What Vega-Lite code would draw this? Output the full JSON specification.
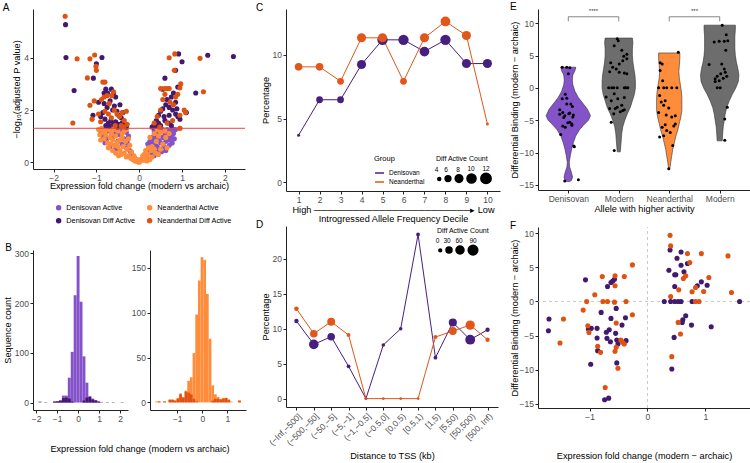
{
"$schema": "https://vega.github.io/schema/vega-lite/v6.json",
"padding": {"left": 2, "top": 1, "right": 0, "bottom": 0},
"background": "white",
"config": {
  "font": "Liberation Sans",
  "view": {"stroke": null},
  "axis": {"grid": false, "domainColor": "#222222", "tickColor": "#222222", "domainWidth": 1, "tickWidth": 1, "tickSize": 3, "labelColor": "#4d4d4d", "labelFontSize": 8.5, "labelPadding": 1.5, "titleFontSize": 9.2, "titleFontWeight": "normal", "titleColor": "#000000", "titlePadding": 2, "labelOverlap": false},
  "title": {"fontSize": 10, "fontWeight": "normal", "anchor": "start", "frame": "bounds", "offset": -4, "color": "#000000"},
  "legend": {"titleFontWeight": "normal", "labelFontSize": 7.3, "titleFontSize": 7.5, "labelColor": "#000000", "titleColor": "#000000"}
},
"datasets": {
  "volc": [
    {"x":-0.85,"y":1.0,"g":"DA"},{"x":-0.7,"y":1.2,"g":"DA"},{"x":-0.62,"y":0.95,"g":"DA"},{"x":-0.55,"y":1.15,"g":"DA"},{"x":-0.5,"y":0.8,"g":"DA"},{"x":-0.45,"y":1.05,"g":"DA"},{"x":-0.4,"y":0.7,"g":"DA"},{"x":-0.35,"y":0.9,"g":"DA"},{"x":-0.3,"y":0.55,"g":"DA"},{"x":-0.28,"y":0.75,"g":"DA"},{"x":-0.22,"y":0.45,"g":"DA"},{"x":-0.18,"y":0.35,"g":"DA"},{"x":-0.15,"y":0.25,"g":"DA"},{"x":-0.1,"y":0.15,"g":"DA"},{"x":-0.05,"y":0.08,"g":"DA"},{"x":-0.6,"y":1.28,"g":"DA"},{"x":-0.75,"y":0.9,"g":"DA"},{"x":-0.42,"y":1.25,"g":"DA"},{"x":-0.3,"y":1.15,"g":"DA"},{"x":-0.25,"y":1.0,"g":"DA"},
    {"x":-0.9,"y":1.2,"g":"DA"},{"x":-0.8,"y":0.75,"g":"DA"},{"x":-0.68,"y":0.6,"g":"DA"},{"x":-0.55,"y":0.5,"g":"DA"},{"x":-0.65,"y":1.05,"g":"DA"},{"x":0.62,"y":0.45,"g":"DA"},{"x":0.7,"y":0.65,"g":"DA"},{"x":0.75,"y":0.95,"g":"DA"},{"x":0.82,"y":0.9,"g":"DA"},{"x":0.85,"y":1.25,"g":"DA"},{"x":0.52,"y":0.4,"g":"DA"},{"x":0.35,"y":0.25,"g":"DA"},{"x":0.6,"y":0.95,"g":"DA"},{"x":0.78,"y":1.28,"g":"DA"},
    {"x":0.05,"y":0.1,"g":"DA"},{"x":0.1,"y":0.2,"g":"DA"},{"x":0.15,"y":0.3,"g":"DA"},{"x":0.2,"y":0.45,"g":"DA"},{"x":0.25,"y":0.55,"g":"DA"},{"x":0.3,"y":0.7,"g":"DA"},{"x":0.35,"y":0.85,"g":"DA"},{"x":0.4,"y":1.0,"g":"DA"},{"x":0.45,"y":1.15,"g":"DA"},{"x":0.5,"y":1.25,"g":"DA"},{"x":0.3,"y":0.95,"g":"DA"},{"x":0.25,"y":0.8,"g":"DA"},{"x":0.2,"y":0.7,"g":"DA"},{"x":0.35,"y":1.2,"g":"DA"},{"x":0.42,"y":0.6,"g":"DA"},{"x":0.5,"y":0.75,"g":"DA"},{"x":0.55,"y":0.95,"g":"DA"},{"x":0.6,"y":1.1,"g":"DA"},{"x":0.65,"y":1.25,"g":"DA"},{"x":0.58,"y":0.6,"g":"DA"},{"x":0.7,"y":0.85,"g":"DA"},{"x":0.77,"y":0.74,"g":"DA"},{"x":0.72,"y":1.2,"g":"DA"},{"x":0.62,"y":0.8,"g":"DA"},{"x":0.48,"y":0.5,"g":"DA"},{"x":0.4,"y":0.4,"g":"DA"},{"x":0.3,"y":0.35,"g":"DA"},{"x":0.18,"y":0.15,"g":"DA"},{"x":0.68,"y":1.0,"g":"DA"},{"x":0.55,"y":1.25,"g":"DA"},{"x":0.8,"y":1.1,"g":"DA"},{"x":0.45,"y":0.85,"g":"DA"},{"x":0.38,"y":0.65,"g":"DA"},
    {"x":-0.95,"y":1.25,"g":"NA"},{"x":-0.85,"y":1.15,"g":"NA"},{"x":-0.78,"y":1.05,"g":"NA"},{"x":-0.74,"y":0.74,"g":"NA"},{"x":-0.7,"y":1.25,"g":"NA"},{"x":-0.65,"y":1.1,"g":"NA"},{"x":-0.62,"y":0.85,"g":"NA"},{"x":-0.58,"y":0.65,"g":"NA"},{"x":-0.55,"y":1.0,"g":"NA"},{"x":-0.5,"y":1.2,"g":"NA"},{"x":-0.5,"y":0.6,"g":"NA"},{"x":-0.45,"y":0.85,"g":"NA"},{"x":-0.45,"y":0.45,"g":"NA"},{"x":-0.4,"y":1.1,"g":"NA"},{"x":-0.38,"y":0.6,"g":"NA"},{"x":-0.35,"y":0.35,"g":"NA"},{"x":-0.32,"y":0.8,"g":"NA"},{"x":-0.3,"y":1.25,"g":"NA"},{"x":-0.28,"y":0.5,"g":"NA"},{"x":-0.25,"y":0.25,"g":"NA"},{"x":-0.22,"y":0.65,"g":"NA"},{"x":-0.2,"y":0.15,"g":"NA"},{"x":-0.18,"y":0.4,"g":"NA"},{"x":-0.15,"y":0.1,"g":"NA"},{"x":-0.12,"y":0.25,"g":"NA"},{"x":-0.1,"y":0.05,"g":"NA"},{"x":-0.08,"y":0.12,"g":"NA"},{"x":-0.05,"y":0.03,"g":"NA"},{"x":-0.02,"y":0.02,"g":"NA"},{"x":-0.88,"y":1.3,"g":"NA"},{"x":-0.68,"y":0.95,"g":"NA"},{"x":-0.4,"y":0.95,"g":"NA"},{"x":-0.35,"y":1.2,"g":"NA"},{"x":-0.25,"y":0.9,"g":"NA"},{"x":-0.6,"y":1.25,"g":"NA"},{"x":-0.52,"y":0.75,"g":"NA"},{"x":-0.42,"y":0.3,"g":"NA"},{"x":-0.3,"y":0.2,"g":"NA"},
    {"x":-0.92,"y":1.05,"g":"NA"},{"x":-0.82,"y":0.9,"g":"NA"},{"x":-0.72,"y":0.55,"g":"NA"},{"x":-0.62,"y":0.45,"g":"NA"},{"x":-0.55,"y":0.35,"g":"NA"},{"x":-0.48,"y":0.25,"g":"NA"},{"x":-0.8,"y":1.22,"g":"NA"},{"x":-0.66,"y":0.7,"g":"NA"},{"x":-0.9,"y":0.85,"g":"NA"},
    {"x":0.0,"y":0.0,"g":"NA"},{"x":0.03,"y":0.05,"g":"NA"},{"x":0.06,"y":0.12,"g":"NA"},{"x":0.1,"y":0.08,"g":"NA"},{"x":0.12,"y":0.3,"g":"NA"},{"x":0.15,"y":0.15,"g":"NA"},{"x":0.2,"y":0.3,"g":"NA"},{"x":0.22,"y":0.55,"g":"NA"},{"x":0.28,"y":0.45,"g":"NA"},{"x":0.3,"y":0.6,"g":"NA"},{"x":0.35,"y":0.5,"g":"NA"},{"x":0.4,"y":0.8,"g":"NA"},{"x":0.45,"y":1.0,"g":"NA"},{"x":0.5,"y":0.5,"g":"NA"},{"x":0.6,"y":1.2,"g":"NA"},{"x":0.95,"y":1.3,"g":"NA"},{"x":0.25,"y":0.95,"g":"NA"},{"x":0.35,"y":1.1,"g":"NA"},{"x":0.15,"y":0.45,"g":"NA"},{"x":0.08,"y":0.25,"g":"NA"},{"x":0.02,"y":0.1,"g":"NA"},{"x":0.5,"y":1.15,"g":"NA"},{"x":0.42,"y":1.25,"g":"NA"},
    {"x":0.3,"y":0.2,"g":"NA"},{"x":0.38,"y":0.35,"g":"NA"},{"x":0.45,"y":0.3,"g":"NA"},{"x":0.55,"y":0.7,"g":"NA"},{"x":0.65,"y":0.55,"g":"NA"},{"x":0.62,"y":0.95,"g":"NA"},{"x":0.7,"y":1.1,"g":"NA"},{"x":0.25,"y":0.1,"g":"NA"},{"x":0.18,"y":0.05,"g":"NA"},
    {"x":-1.72,"y":5.27,"g":"DD"},{"x":-1.71,"y":4.01,"g":"DD"},{"x":-0.87,"y":4.01,"g":"DD"},{"x":-1.0,"y":3.77,"g":"DD"},{"x":-1.07,"y":3.22,"g":"DD"},{"x":-1.52,"y":2.75,"g":"DD"},{"x":-0.78,"y":2.8,"g":"DD"},{"x":-0.74,"y":2.65,"g":"DD"},{"x":-0.65,"y":2.8,"g":"DD"},{"x":-0.6,"y":2.65,"g":"DD"},{"x":-0.55,"y":2.5,"g":"DD"},{"x":-0.95,"y":2.3,"g":"DD"},{"x":-0.82,"y":2.25,"g":"DD"},{"x":-0.75,"y":2.1,"g":"DD"},{"x":-0.68,"y":2.35,"g":"DD"},{"x":-0.62,"y":2.0,"g":"DD"},{"x":-0.58,"y":2.15,"g":"DD"},{"x":-0.52,"y":1.95,"g":"DD"},{"x":-0.48,"y":1.8,"g":"DD"},{"x":-0.42,"y":1.7,"g":"DD"},{"x":-1.08,"y":1.8,"g":"DD"},{"x":-0.9,"y":1.75,"g":"DD"},{"x":-0.8,"y":1.65,"g":"DD"},{"x":-0.72,"y":1.5,"g":"DD"},{"x":-0.66,"y":1.6,"g":"DD"},{"x":-0.6,"y":1.45,"g":"DD"},{"x":-0.55,"y":1.55,"g":"DD"},{"x":-0.48,"y":1.45,"g":"DD"},{"x":-0.4,"y":1.5,"g":"DD"},{"x":-0.35,"y":1.4,"g":"DD"},{"x":-0.78,"y":1.4,"g":"DD"},{"x":-0.7,"y":1.38,"g":"DD"},{"x":-0.5,"y":1.35,"g":"DD"},{"x":-0.3,"y":1.35,"g":"DD"},{"x":-0.45,"y":2.2,"g":"DD"},{"x":-0.38,"y":1.9,"g":"DD"},{"x":-0.85,"y":1.9,"g":"DD"},{"x":-0.82,"y":2.65,"g":"DD"},
    {"x":0.92,"y":4.15,"g":"DD"},{"x":1.0,"y":3.85,"g":"DD"},{"x":0.85,"y":3.52,"g":"DD"},{"x":0.6,"y":3.22,"g":"DD"},{"x":0.9,"y":2.88,"g":"DD"},{"x":0.55,"y":2.8,"g":"DD"},{"x":1.32,"y":2.65,"g":"DD"},{"x":1.6,"y":4.1,"g":"DD"},{"x":2.2,"y":4.05,"g":"DD"},{"x":0.8,"y":2.65,"g":"DD"},{"x":0.75,"y":2.5,"g":"DD"},{"x":0.65,"y":2.4,"g":"DD"},{"x":0.62,"y":2.2,"g":"DD"},{"x":0.55,"y":2.05,"g":"DD"},{"x":0.5,"y":1.95,"g":"DD"},{"x":0.45,"y":1.8,"g":"DD"},{"x":0.4,"y":1.6,"g":"DD"},{"x":0.35,"y":1.45,"g":"DD"},{"x":0.3,"y":1.35,"g":"DD"},{"x":0.7,"y":2.1,"g":"DD"},{"x":0.78,"y":2.0,"g":"DD"},{"x":0.85,"y":1.85,"g":"DD"},{"x":0.9,"y":1.75,"g":"DD"},{"x":0.95,"y":1.65,"g":"DD"},{"x":1.1,"y":1.9,"g":"DD"},{"x":0.6,"y":1.6,"g":"DD"},{"x":0.68,"y":1.5,"g":"DD"},{"x":0.75,"y":1.4,"g":"DD"},{"x":0.5,"y":1.4,"g":"DD"},{"x":0.85,"y":2.3,"g":"DD"},{"x":0.88,"y":2.05,"g":"DD"},{"x":0.7,"y":1.8,"g":"DD"},{"x":0.58,"y":1.75,"g":"DD"},{"x":0.45,"y":1.5,"g":"DD"},{"x":0.38,"y":1.38,"g":"DD"},
    {"x":-1.73,"y":5.59,"g":"ND"},{"x":-1.45,"y":3.96,"g":"ND"},{"x":-1.15,"y":3.96,"g":"ND"},{"x":-1.04,"y":4.11,"g":"ND"},{"x":-1.01,"y":3.67,"g":"ND"},{"x":-1.0,"y":3.52,"g":"ND"},{"x":-1.21,"y":3.23,"g":"ND"},{"x":-0.85,"y":3.07,"g":"ND"},{"x":-0.8,"y":3.07,"g":"ND"},{"x":-1.05,"y":2.35,"g":"ND"},{"x":-1.15,"y":2.18,"g":"ND"},{"x":-1.1,"y":1.65,"g":"ND"},{"x":-1.55,"y":1.5,"g":"ND"},{"x":-0.95,"y":1.85,"g":"ND"},{"x":-0.88,"y":2.4,"g":"ND"},{"x":-0.82,"y":2.5,"g":"ND"},{"x":-0.75,"y":2.55,"g":"ND"},{"x":-0.7,"y":2.25,"g":"ND"},{"x":-0.64,"y":2.55,"g":"ND"},{"x":-0.58,"y":2.0,"g":"ND"},{"x":-0.52,"y":1.85,"g":"ND"},{"x":-0.46,"y":1.75,"g":"ND"},{"x":-0.4,"y":1.9,"g":"ND"},{"x":-0.35,"y":1.6,"g":"ND"},{"x":-0.3,"y":1.95,"g":"ND"},{"x":-0.28,"y":1.45,"g":"ND"},{"x":-0.65,"y":1.7,"g":"ND"},{"x":-0.72,"y":1.85,"g":"ND"},{"x":-0.8,"y":1.95,"g":"ND"},{"x":-0.56,"y":1.4,"g":"ND"},{"x":-0.42,"y":1.4,"g":"ND"},{"x":-0.36,"y":1.35,"g":"ND"},{"x":-0.6,"y":2.7,"g":"ND"},{"x":-0.9,"y":1.55,"g":"ND"},
    {"x":0.83,"y":4.15,"g":"ND"},{"x":0.7,"y":4.0,"g":"ND"},{"x":1.42,"y":3.98,"g":"ND"},{"x":0.82,"y":3.52,"g":"ND"},{"x":0.97,"y":3.0,"g":"ND"},{"x":0.95,"y":2.85,"g":"ND"},{"x":0.5,"y":2.82,"g":"ND"},{"x":0.6,"y":2.82,"g":"ND"},{"x":0.65,"y":2.82,"g":"ND"},{"x":0.7,"y":2.82,"g":"ND"},{"x":1.5,"y":2.7,"g":"ND"},{"x":0.9,"y":2.6,"g":"ND"},{"x":0.85,"y":2.5,"g":"ND"},{"x":0.72,"y":2.3,"g":"ND"},{"x":0.6,"y":2.6,"g":"ND"},{"x":0.55,"y":2.4,"g":"ND"},{"x":0.8,"y":2.2,"g":"ND"},{"x":1.05,"y":2.0,"g":"ND"},{"x":1.08,"y":1.9,"g":"ND"},{"x":0.95,"y":1.8,"g":"ND"},{"x":0.5,"y":2.0,"g":"ND"},{"x":0.42,"y":1.75,"g":"ND"},{"x":0.65,"y":1.5,"g":"ND"},{"x":0.95,"y":1.3,"g":"ND"},{"x":0.48,"y":1.35,"g":"ND"},{"x":0.78,"y":1.6,"g":"ND"},{"x":0.35,"y":1.5,"g":"ND"}
  ],
  "h1": [
    {"a":-1.89,"b":-1.75,"n":2,"g":"L"},{"a":-1.61,"b":-1.47,"n":1,"g":"L"},{"a":-1.19,"b":-1.05,"n":2,"g":"L"},{"a":-1.05,"b":-0.91,"n":3,"g":"L"},{"a":-0.91,"b":-0.77,"n":5,"g":"L"},{"a":-0.77,"b":-0.63,"n":14,"g":"L"},{"a":-0.63,"b":-0.49,"n":14,"g":"L"},{"a":-0.49,"b":-0.35,"n":50,"g":"L"},{"a":-0.35,"b":-0.21,"n":102,"g":"L"},{"a":-0.21,"b":-0.07,"n":216,"g":"L"},{"a":-0.07,"b":0.07,"n":295,"g":"L"},{"a":0.07,"b":0.21,"n":203,"g":"L"},{"a":0.21,"b":0.35,"n":93,"g":"L"},{"a":0.35,"b":0.49,"n":40,"g":"L"},{"a":0.49,"b":0.63,"n":13,"g":"L"},{"a":0.63,"b":0.77,"n":8,"g":"L"},{"a":0.77,"b":0.91,"n":5,"g":"L"},{"a":0.91,"b":1.05,"n":2,"g":"L"},{"a":1.05,"b":1.19,"n":1,"g":"L"},{"a":1.33,"b":1.47,"n":1,"g":"L"},{"a":1.61,"b":1.75,"n":1,"g":"L"},{"a":2.03,"b":2.17,"n":1,"g":"L"},
    {"a":-1.19,"b":-1.05,"n":2,"g":"D"},{"a":-1.05,"b":-0.91,"n":2,"g":"D"},{"a":-0.91,"b":-0.77,"n":3,"g":"D"},{"a":-0.77,"b":-0.63,"n":9,"g":"D"},{"a":-0.63,"b":-0.49,"n":10,"g":"D"},{"a":-0.49,"b":-0.35,"n":8,"g":"D"},{"a":-0.35,"b":-0.21,"n":2,"g":"D"},{"a":0.21,"b":0.35,"n":4,"g":"D"},{"a":0.35,"b":0.49,"n":10,"g":"D"},{"a":0.49,"b":0.63,"n":11,"g":"D"},{"a":0.63,"b":0.77,"n":6,"g":"D"},{"a":0.77,"b":0.91,"n":4,"g":"D"},{"a":0.91,"b":1.05,"n":2,"g":"D"}
  ],
  "h2": [
    {"a":-1.883,"b":-1.776,"n":1,"g":"L"},{"a":-1.776,"b":-1.669,"n":1,"g":"L"},{"a":-1.562,"b":-1.455,"n":1,"g":"L"},{"a":-1.348,"b":-1.241,"n":3,"g":"L"},{"a":-1.241,"b":-1.134,"n":3,"g":"L"},{"a":-1.134,"b":-1.027,"n":2,"g":"L"},{"a":-1.027,"b":-0.92,"n":5,"g":"L"},{"a":-0.92,"b":-0.813,"n":10,"g":"L"},{"a":-0.813,"b":-0.706,"n":6,"g":"L"},{"a":-0.706,"b":-0.599,"n":13,"g":"L"},{"a":-0.599,"b":-0.492,"n":24,"g":"L"},{"a":-0.492,"b":-0.385,"n":28,"g":"L"},{"a":-0.385,"b":-0.278,"n":55,"g":"L"},{"a":-0.278,"b":-0.171,"n":98,"g":"L"},{"a":-0.171,"b":-0.064,"n":136,"g":"L"},{"a":-0.064,"b":0.044,"n":162,"g":"L"},{"a":0.044,"b":0.151,"n":159,"g":"L"},{"a":0.151,"b":0.258,"n":121,"g":"L"},{"a":0.258,"b":0.365,"n":71,"g":"L"},{"a":0.365,"b":0.472,"n":19,"g":"L"},{"a":0.472,"b":0.579,"n":9,"g":"L"},{"a":0.579,"b":0.686,"n":6,"g":"L"},{"a":0.686,"b":0.793,"n":4,"g":"L"},{"a":0.793,"b":0.9,"n":5,"g":"L"},{"a":0.9,"b":1.007,"n":5,"g":"L"},{"a":1.007,"b":1.114,"n":3,"g":"L"},{"a":1.114,"b":1.221,"n":1,"g":"L"},{"a":1.435,"b":1.542,"n":2,"g":"L"},
    {"a":-1.776,"b":-1.669,"n":1,"g":"D"},{"a":-1.562,"b":-1.455,"n":1,"g":"D"},{"a":-1.348,"b":-1.241,"n":3,"g":"D"},{"a":-1.241,"b":-1.134,"n":3,"g":"D"},{"a":-1.134,"b":-1.027,"n":2,"g":"D"},{"a":-1.027,"b":-0.92,"n":4,"g":"D"},{"a":-0.92,"b":-0.813,"n":9,"g":"D"},{"a":-0.813,"b":-0.706,"n":5,"g":"D"},{"a":-0.706,"b":-0.599,"n":12,"g":"D"},{"a":-0.599,"b":-0.492,"n":11,"g":"D"},{"a":-0.492,"b":-0.385,"n":9,"g":"D"},{"a":-0.385,"b":-0.278,"n":4,"g":"D"},{"a":-0.278,"b":-0.171,"n":1,"g":"D"},{"a":0.365,"b":0.472,"n":2,"g":"D"},{"a":0.472,"b":0.579,"n":4,"g":"D"},{"a":0.579,"b":0.686,"n":4,"g":"D"},{"a":0.686,"b":0.793,"n":3,"g":"D"},{"a":0.793,"b":0.9,"n":4,"g":"D"},{"a":0.9,"b":1.007,"n":5,"g":"D"},{"a":1.007,"b":1.114,"n":3,"g":"D"},{"a":1.435,"b":1.542,"n":2,"g":"D"}
  ],
  "dec": [
    {"d":1,"p":3.7,"n":4,"g":"Denisovan"},{"d":2,"p":6.48,"n":7,"g":"Denisovan"},{"d":3,"p":6.48,"n":7,"g":"Denisovan"},{"d":4,"p":9.25,"n":10,"g":"Denisovan"},{"d":5,"p":11.18,"n":12,"g":"Denisovan"},{"d":6,"p":11.18,"n":12,"g":"Denisovan"},{"d":7,"p":10.26,"n":11,"g":"Denisovan"},{"d":8,"p":11.18,"n":12,"g":"Denisovan"},{"d":9,"p":9.32,"n":10,"g":"Denisovan"},{"d":10,"p":9.32,"n":10,"g":"Denisovan"},
    {"d":1,"p":9.06,"n":8,"g":"Neanderthal"},{"d":2,"p":9.06,"n":8,"g":"Neanderthal"},{"d":3,"p":7.93,"n":7,"g":"Neanderthal"},{"d":4,"p":11.34,"n":10,"g":"Neanderthal"},{"d":5,"p":11.34,"n":10,"g":"Neanderthal"},{"d":6,"p":7.93,"n":7,"g":"Neanderthal"},{"d":7,"p":11.34,"n":10,"g":"Neanderthal"},{"d":8,"p":12.62,"n":11,"g":"Neanderthal"},{"d":9,"p":11.52,"n":10,"g":"Neanderthal"},{"d":10,"p":4.57,"n":4,"g":"Neanderthal"}
  ],
  "tss": [
    {"b":"(−Inf,−500]","p":11.1,"n":12,"g":"Denisovan"},{"b":"(−500,−50]","p":7.76,"n":90,"g":"Denisovan"},{"b":"(−50,−5]","p":8.86,"n":53,"g":"Denisovan"},{"b":"(−5,−1]","p":4.62,"n":7,"g":"Denisovan"},{"b":"(−1,−0.5]","p":0,"n":0,"g":"Denisovan"},{"b":"(−0.5,0]","p":7.67,"n":5,"g":"Denisovan"},{"b":"[0,0.5)","p":10.0,"n":5,"g":"Denisovan"},{"b":"[0.5,1)","p":23.48,"n":7,"g":"Denisovan"},{"b":"[1,5)","p":5.86,"n":7,"g":"Denisovan"},{"b":"[5,50)","p":10.9,"n":62,"g":"Denisovan"},{"b":"[50,500)","p":8.43,"n":95,"g":"Denisovan"},{"b":"[500, Inf)","p":9.86,"n":12,"g":"Denisovan"},
    {"b":"(−Inf,−500]","p":12.86,"n":14,"g":"Neanderthal"},{"b":"(−500,−50]","p":9.29,"n":53,"g":"Neanderthal"},{"b":"(−50,−5]","p":11.0,"n":58,"g":"Neanderthal"},{"b":"(−5,−1]","p":9.1,"n":7,"g":"Neanderthal"},{"b":"(−1,−0.5]","p":0,"n":0,"g":"Neanderthal"},{"b":"(−0.5,0]","p":0,"n":0,"g":"Neanderthal"},{"b":"[0,0.5)","p":0,"n":0,"g":"Neanderthal"},{"b":"[0.5,1)","p":0,"n":0,"g":"Neanderthal"},{"b":"[1,5)","p":8.81,"n":9,"g":"Neanderthal"},{"b":"[5,50)","p":9.67,"n":58,"g":"Neanderthal"},{"b":"[50,500)","p":10.52,"n":85,"g":"Neanderthal"},{"b":"[500, Inf)","p":8.43,"n":12,"g":"Neanderthal"}
  ],
  "vio": [
    {"g":"Den","v":3.2,"lo":0.85,"hi":1.15},{"g":"Den","v":2.6,"lo":0.87,"hi":1.13},{"g":"Den","v":2.0,"lo":0.91,"hi":1.09},{"g":"Den","v":1.2,"lo":0.92,"hi":1.08},{"g":"Den","v":0.5,"lo":0.91,"hi":1.09},{"g":"Den","v":-0.5,"lo":0.87,"hi":1.13},{"g":"Den","v":-1.5,"lo":0.8,"hi":1.2},{"g":"Den","v":-2.5,"lo":0.7,"hi":1.3},{"g":"Den","v":-3.3,"lo":0.62,"hi":1.38},{"g":"Den","v":-4.3,"lo":0.56,"hi":1.44},{"g":"Den","v":-5.0,"lo":0.6,"hi":1.4},{"g":"Den","v":-5.8,"lo":0.7,"hi":1.3},{"g":"Den","v":-6.5,"lo":0.78,"hi":1.22},{"g":"Den","v":-7.5,"lo":0.855,"hi":1.145},{"g":"Den","v":-8.5,"lo":0.9,"hi":1.1},{"g":"Den","v":-9.5,"lo":0.934,"hi":1.066},{"g":"Den","v":-10.5,"lo":0.96,"hi":1.04},{"g":"Den","v":-11.5,"lo":0.98,"hi":1.02},{"g":"Den","v":-12.2,"lo":0.974,"hi":1.026},{"g":"Den","v":-13.0,"lo":0.94,"hi":1.06},{"g":"Den","v":-13.8,"lo":0.915,"hi":1.085},{"g":"Den","v":-14.3,"lo":0.935,"hi":1.065},{"g":"Den","v":-14.5,"lo":0.97,"hi":1.03},
    {"g":"Mod1","v":7.7,"lo":1.73,"hi":2.27},{"g":"Mod1","v":7.0,"lo":1.72,"hi":2.28},{"g":"Mod1","v":6.0,"lo":1.73,"hi":2.27},{"g":"Mod1","v":5.0,"lo":1.73,"hi":2.27},{"g":"Mod1","v":4.0,"lo":1.72,"hi":2.28},{"g":"Mod1","v":3.0,"lo":1.7,"hi":2.3},{"g":"Mod1","v":2.0,"lo":1.68,"hi":2.32},{"g":"Mod1","v":1.0,"lo":1.67,"hi":2.33},{"g":"Mod1","v":0.0,"lo":1.67,"hi":2.33},{"g":"Mod1","v":-1.0,"lo":1.69,"hi":2.31},{"g":"Mod1","v":-2.0,"lo":1.73,"hi":2.27},{"g":"Mod1","v":-3.0,"lo":1.77,"hi":2.23},{"g":"Mod1","v":-4.0,"lo":1.83,"hi":2.17},{"g":"Mod1","v":-5.0,"lo":1.88,"hi":2.12},{"g":"Mod1","v":-6.0,"lo":1.92,"hi":2.08},{"g":"Mod1","v":-7.0,"lo":1.94,"hi":2.06},{"g":"Mod1","v":-8.0,"lo":1.95,"hi":2.05},{"g":"Mod1","v":-9.0,"lo":1.96,"hi":2.04},{"g":"Mod1","v":-9.9,"lo":1.97,"hi":2.03},
    {"g":"Nea","v":5.4,"lo":2.79,"hi":3.21},{"g":"Nea","v":4.5,"lo":2.79,"hi":3.21},{"g":"Nea","v":3.5,"lo":2.8,"hi":3.2},{"g":"Nea","v":2.5,"lo":2.81,"hi":3.19},{"g":"Nea","v":1.5,"lo":2.8,"hi":3.2},{"g":"Nea","v":0.5,"lo":2.78,"hi":3.22},{"g":"Nea","v":-0.5,"lo":2.76,"hi":3.24},{"g":"Nea","v":-1.5,"lo":2.75,"hi":3.25},{"g":"Nea","v":-2.5,"lo":2.75,"hi":3.25},{"g":"Nea","v":-3.5,"lo":2.75,"hi":3.25},{"g":"Nea","v":-4.5,"lo":2.77,"hi":3.23},{"g":"Nea","v":-5.5,"lo":2.8,"hi":3.2},{"g":"Nea","v":-6.5,"lo":2.83,"hi":3.17},{"g":"Nea","v":-7.5,"lo":2.87,"hi":3.13},{"g":"Nea","v":-8.5,"lo":2.9,"hi":3.1},{"g":"Nea","v":-9.5,"lo":2.93,"hi":3.07},{"g":"Nea","v":-10.5,"lo":2.95,"hi":3.05},{"g":"Nea","v":-11.5,"lo":2.97,"hi":3.03},{"g":"Nea","v":-12.6,"lo":2.99,"hi":3.01},
    {"g":"Mod2","v":9.7,"lo":3.69,"hi":4.31},{"g":"Mod2","v":9.0,"lo":3.69,"hi":4.31},{"g":"Mod2","v":8.0,"lo":3.7,"hi":4.3},{"g":"Mod2","v":7.0,"lo":3.7,"hi":4.3},{"g":"Mod2","v":6.0,"lo":3.7,"hi":4.3},{"g":"Mod2","v":5.0,"lo":3.69,"hi":4.31},{"g":"Mod2","v":4.0,"lo":3.67,"hi":4.33},{"g":"Mod2","v":3.0,"lo":3.64,"hi":4.36},{"g":"Mod2","v":2.0,"lo":3.62,"hi":4.38},{"g":"Mod2","v":1.0,"lo":3.63,"hi":4.37},{"g":"Mod2","v":0.0,"lo":3.68,"hi":4.32},{"g":"Mod2","v":-1.0,"lo":3.75,"hi":4.25},{"g":"Mod2","v":-2.0,"lo":3.81,"hi":4.19},{"g":"Mod2","v":-3.0,"lo":3.86,"hi":4.14},{"g":"Mod2","v":-4.0,"lo":3.89,"hi":4.11},{"g":"Mod2","v":-5.0,"lo":3.91,"hi":4.09},{"g":"Mod2","v":-6.0,"lo":3.93,"hi":4.07},{"g":"Mod2","v":-7.0,"lo":3.94,"hi":4.06},{"g":"Mod2","v":-8.2,"lo":3.95,"hi":4.05}
  ],
  "jit": [
    {"x":0.88,"v":3.2},{"x":0.97,"v":3.2},{"x":1.03,"v":3.1},{"x":1.0,"v":2.2},{"x":0.94,"v":-1.0},{"x":0.97,"v":-1.6},{"x":0.88,"v":-1.7},{"x":0.97,"v":-2.5},{"x":1.05,"v":-2.5},{"x":0.83,"v":-3.4},{"x":0.89,"v":-3.8},{"x":0.93,"v":-4.3},{"x":1.01,"v":-4.0},{"x":1.1,"v":-4.2},{"x":1.09,"v":-4.5},{"x":0.83,"v":-4.1},{"x":0.91,"v":-4.6},{"x":1.03,"v":-5.3},{"x":1.07,"v":-5.6},{"x":0.99,"v":-5.4},{"x":0.89,"v":-5.9},{"x":0.94,"v":-6.1},{"x":1.07,"v":-5.8},{"x":0.85,"v":-7.2},{"x":1.11,"v":-9.0},{"x":1.12,"v":-9.1},{"x":0.93,"v":-14.4},{"x":1.2,"v":-14.2},{"x":1.08,"v":-2.9},{"x":1.03,"v":-3.9},
    {"x":1.97,"v":7.6},{"x":1.99,"v":7.3},{"x":1.91,"v":6.5},{"x":2.06,"v":5.8},{"x":2.16,"v":5.2},{"x":2.1,"v":4.9},{"x":2.16,"v":4.5},{"x":2.08,"v":4.2},{"x":1.84,"v":3.9},{"x":2.01,"v":3.7},{"x":1.88,"v":3.2},{"x":1.95,"v":2.9},{"x":1.82,"v":2.5},{"x":2.01,"v":2.4},{"x":2.11,"v":2.3},{"x":2.16,"v":2.2},{"x":1.8,"v":0},{"x":1.86,"v":0},{"x":1.9,"v":0},{"x":1.97,"v":0},{"x":2.11,"v":0},{"x":2.14,"v":0},{"x":2.18,"v":0},{"x":1.91,"v":-0.9},{"x":1.75,"v":-1.4},{"x":1.98,"v":-1.7},{"x":1.85,"v":-2.0},{"x":2.11,"v":-1.5},{"x":1.97,"v":-3.0},{"x":2.06,"v":-2.7},{"x":1.93,"v":-3.2},{"x":1.82,"v":-3.2},{"x":2.11,"v":-3.4},{"x":2.03,"v":-3.7},{"x":1.9,"v":-4.0},{"x":2.08,"v":-3.5},{"x":1.85,"v":-5.3},{"x":1.91,"v":-9.7},
    {"x":3.18,"v":5.5},{"x":2.82,"v":3.9},{"x":2.86,"v":3.7},{"x":2.82,"v":2.7},{"x":2.87,"v":1.1},{"x":2.79,"v":0},{"x":2.89,"v":0},{"x":2.95,"v":0},{"x":3.05,"v":0},{"x":3.15,"v":0},{"x":2.81,"v":-1.2},{"x":2.92,"v":-2.0},{"x":2.84,"v":-2.2},{"x":2.89,"v":-2.7},{"x":2.99,"v":-3.1},{"x":2.79,"v":-3.8},{"x":2.94,"v":-4.2},{"x":3.12,"v":-4.3},{"x":3.05,"v":-4.5},{"x":3.12,"v":-5.6},{"x":2.92,"v":-5.7},{"x":3.09,"v":-5.9},{"x":2.86,"v":-6.1},{"x":2.95,"v":-6.6},{"x":3.02,"v":-6.9},{"x":2.89,"v":-7.4},{"x":2.81,"v":-7.6},{"x":3.07,"v":-8.9},{"x":2.99,"v":-12.5},
    {"x":4.05,"v":9.7},{"x":4.13,"v":8.2},{"x":4.16,"v":7.3},{"x":3.99,"v":7.2},{"x":4.09,"v":7.2},{"x":3.89,"v":7.1},{"x":4.12,"v":5.8},{"x":3.79,"v":3.6},{"x":4.04,"v":3.7},{"x":4.09,"v":2.9},{"x":4.11,"v":2.4},{"x":4.02,"v":2.2},{"x":3.95,"v":1.8},{"x":4.14,"v":1.8},{"x":3.91,"v":1.4},{"x":3.99,"v":1.1},{"x":4.07,"v":1.5},{"x":3.95,"v":0},{"x":4.01,"v":0},{"x":3.91,"v":1.0},{"x":4.15,"v":-3.0},{"x":4.1,"v":-4.8},{"x":4.1,"v":-8.1}
  ],
  "brk": [
    {"x":1,"x2":2,"v":11,"v2":11},{"x":1,"x2":1,"v":10.3,"v2":11},{"x":2,"x2":2,"v":10.3,"v2":11},{"x":3,"x2":4,"v":11,"v2":11},{"x":3,"x2":3,"v":10.3,"v2":11},{"x":4,"x2":4,"v":10.3,"v2":11}
  ],
  "sig": [{"x":1.5,"v":11.9,"t":"****"},{"x":3.5,"v":11.9,"t":"***"}],
  "fc": [
    {"x":-1.71,"y":-4.28,"g":"Denisovan"},{"x":-1.7,"y":-2.58,"g":"Denisovan"},{"x":-1.07,"y":3.16,"g":"Denisovan"},{"x":-1.02,"y":-4.04,"g":"Denisovan"},{"x":-0.97,"y":-3.94,"g":"Denisovan"},{"x":-0.87,"y":-3.94,"g":"Denisovan"},{"x":-0.87,"y":-5.35,"g":"Denisovan"},{"x":-0.86,"y":-7.2,"g":"Denisovan"},{"x":-0.98,"y":-9.2,"g":"Denisovan"},{"x":-0.8,"y":-1.6,"g":"Denisovan"},{"x":-0.69,"y":2.19,"g":"Denisovan"},{"x":-0.63,"y":2.77,"g":"Denisovan"},{"x":-0.6,"y":3.0,"g":"Denisovan"},{"x":-0.57,"y":3.26,"g":"Denisovan"},{"x":-0.63,"y":-2.48,"g":"Denisovan"},{"x":-0.66,"y":-4.14,"g":"Denisovan"},{"x":-0.7,"y":-5.4,"g":"Denisovan"},{"x":-0.64,"y":-5.9,"g":"Denisovan"},{"x":-0.71,"y":-4.5,"g":"Denisovan"},{"x":-0.54,"y":-1.02,"g":"Denisovan"},{"x":-0.55,"y":-4.67,"g":"Denisovan"},{"x":-0.53,"y":-5.65,"g":"Denisovan"},{"x":-0.51,"y":-6.23,"g":"Denisovan"},{"x":-0.53,"y":-9.0,"g":"Denisovan"},{"x":-0.44,"y":-3.46,"g":"Denisovan"},{"x":-0.38,"y":-2.38,"g":"Denisovan"},{"x":-0.37,"y":-5.74,"g":"Denisovan"},{"x":-0.67,"y":-14.16,"g":"Denisovan"},{"x":-0.74,"y":-14.4,"g":"Denisovan"},
    {"x":0.39,"y":7.54,"g":"Denisovan"},{"x":0.58,"y":7.25,"g":"Denisovan"},{"x":0.51,"y":6.33,"g":"Denisovan"},{"x":0.58,"y":5.3,"g":"Denisovan"},{"x":0.69,"y":5.55,"g":"Denisovan"},{"x":0.37,"y":4.57,"g":"Denisovan"},{"x":0.63,"y":4.33,"g":"Denisovan"},{"x":0.47,"y":3.9,"g":"Denisovan"},{"x":0.49,"y":3.9,"g":"Denisovan"},{"x":0.47,"y":2.19,"g":"Denisovan"},{"x":0.93,"y":2.87,"g":"Denisovan"},{"x":0.86,"y":2.29,"g":"Denisovan"},{"x":1.03,"y":2.38,"g":"Denisovan"},{"x":0.29,"y":0,"g":"Denisovan"},{"x":0.4,"y":0,"g":"Denisovan"},{"x":0.47,"y":0,"g":"Denisovan"},{"x":0.53,"y":0,"g":"Denisovan"},{"x":0.58,"y":0,"g":"Denisovan"},{"x":0.77,"y":0,"g":"Denisovan"},{"x":1.59,"y":0,"g":"Denisovan"},{"x":0.66,"y":-2.1,"g":"Denisovan"},{"x":0.61,"y":-2.68,"g":"Denisovan"},{"x":0.6,"y":-3.07,"g":"Denisovan"},{"x":0.76,"y":-3.46,"g":"Denisovan"},{"x":1.1,"y":-3.7,"g":"Denisovan"},{"x":0.46,"y":-5.26,"g":"Denisovan"},{"x":0.42,"y":-9.88,"g":"Denisovan"},
    {"x":-1.51,"y":-6.08,"g":"Neanderthal"},{"x":-1.45,"y":-2.58,"g":"Neanderthal"},{"x":-1.11,"y":-1.27,"g":"Neanderthal"},{"x":-1.05,"y":0,"g":"Neanderthal"},{"x":-1.03,"y":-3.55,"g":"Neanderthal"},{"x":-1.01,"y":-4.53,"g":"Neanderthal"},{"x":-0.91,"y":0.97,"g":"Neanderthal"},{"x":-0.86,"y":-6.57,"g":"Neanderthal"},{"x":-0.81,"y":-7.45,"g":"Neanderthal"},{"x":-0.78,"y":3.65,"g":"Neanderthal"},{"x":-0.77,"y":0,"g":"Neanderthal"},{"x":-0.69,"y":0,"g":"Neanderthal"},{"x":-0.57,"y":-0.1,"g":"Neanderthal"},{"x":-0.37,"y":0,"g":"Neanderthal"},{"x":-0.56,"y":3.75,"g":"Neanderthal"},{"x":-0.56,"y":2.29,"g":"Neanderthal"},{"x":-0.4,"y":3.65,"g":"Neanderthal"},{"x":-0.26,"y":5.35,"g":"Neanderthal"},{"x":-0.26,"y":-1.95,"g":"Neanderthal"},{"x":-0.54,"y":-3.16,"g":"Neanderthal"},{"x":-0.46,"y":-5.65,"g":"Neanderthal"},{"x":-0.4,"y":-6.23,"g":"Neanderthal"},{"x":-0.43,"y":-5.99,"g":"Neanderthal"},{"x":-0.54,"y":-6.72,"g":"Neanderthal"},{"x":-0.56,"y":-7.3,"g":"Neanderthal"},{"x":-0.51,"y":-9.78,"g":"Neanderthal"},{"x":-0.73,"y":-12.6,"g":"Neanderthal"},
    {"x":0.39,"y":9.68,"g":"Neanderthal"},{"x":0.4,"y":8.13,"g":"Neanderthal"},{"x":0.69,"y":7.0,"g":"Neanderthal"},{"x":0.73,"y":5.69,"g":"Neanderthal"},{"x":0.93,"y":7.0,"g":"Neanderthal"},{"x":1.39,"y":6.67,"g":"Neanderthal"},{"x":0.66,"y":3.75,"g":"Neanderthal"},{"x":0.62,"y":3.36,"g":"Neanderthal"},{"x":0.54,"y":1.7,"g":"Neanderthal"},{"x":0.77,"y":1.41,"g":"Neanderthal"},{"x":0.83,"y":2.04,"g":"Neanderthal"},{"x":0.97,"y":1.46,"g":"Neanderthal"},{"x":1.06,"y":3.5,"g":"Neanderthal"},{"x":1.45,"y":1.31,"g":"Neanderthal"},{"x":0.4,"y":0.73,"g":"Neanderthal"},{"x":0.83,"y":0,"g":"Neanderthal"},{"x":0.89,"y":0,"g":"Neanderthal"},{"x":0.53,"y":-3.07,"g":"Neanderthal"},{"x":0.57,"y":-4.77,"g":"Neanderthal"},{"x":0.42,"y":-8.08,"g":"Neanderthal"}
  ]
},
"hconcat": [
  {
    "vconcat": [
      {
        "width": 212, "height": 160,
        "title": {"text": "A", "dx": -10},
        "layer": [
          {
            "data": {"name": "volc"},
            "mark": {"type": "circle", "size": 26, "opacity": 1},
            "encoding": {
              "x": {"field": "x", "type": "quantitative", "scale": {"domain": [-2.48, 2.47], "nice": false, "zero": false}, "axis": {"values": [-2, -1, 0, 1, 2], "format": "d", "title": "Expression fold change (modern vs archaic)", "titlePadding": 0, "labelPadding": 1}},
              "y": {"field": "y", "type": "quantitative", "scale": {"domain": [-0.26, 5.87], "nice": false}, "axis": {"values": [0, 2, 4], "format": "d", "title": "−log₁₀(adjusted P value)"}},
              "color": {"field": "g", "type": "nominal", "scale": {"domain": ["DA", "NA", "DD", "ND"], "range": ["#8452C9", "#FF8C3B", "#41196F", "#DF5210"]},
                "legend": {"orient": "none", "legendX": 22, "legendY": 195, "direction": "horizontal", "columns": 2, "title": null, "symbolType": "circle", "symbolSize": 30, "labelFontSize": 7.3, "columnPadding": 10, "rowPadding": 5,
                  "labelExpr": "datum.label=='DA'?'Denisovan Active':datum.label=='NA'?'Neanderthal Active':datum.label=='DD'?'Denisovan Diff Active':'Neanderthal Diff Active'"}}
            }
          },
          {
            "data": {"values": [{}]},
            "mark": {"type": "rule", "color": "#E8434A", "strokeWidth": 1},
            "encoding": {"y": {"datum": 1.3}}
          }
        ]
      },
      {
        "hconcat": [
          {
            "width": 95, "height": 160,
            "title": {"text": "B", "dx": 2},
            "data": {"name": "h1"},
            "mark": {"type": "rect"},
            "encoding": {
              "x": {"field": "a", "type": "quantitative", "scale": {"domain": [-2.15, 2.38], "nice": false, "zero": false}, "axis": {"values": [-2, -1, 0, 1, 2], "format": "d", "title": "Expression fold change (modern vs archaic)", "titleX": 106.5, "titleAlign": "center", "titlePadding": 21}},
              "x2": {"field": "b"},
              "y": {"field": "n", "type": "quantitative", "scale": {"domain": [-15, 307], "nice": false}, "axis": {"values": [0, 100, 200, 300], "format": "d", "title": "Sequence count"}},
              "y2": {"datum": 0},
              "color": {"field": "g", "type": "nominal", "scale": {"domain": ["L", "D"], "range": ["#8452C9", "#41196F"]}, "legend": null}
            }
          },
          {
            "width": 96, "height": 160,
            "data": {"name": "h2"},
            "mark": {"type": "rect"},
            "encoding": {
              "x": {"field": "a", "type": "quantitative", "scale": {"domain": [-2.09, 1.75], "nice": false, "zero": false}, "axis": {"values": [-1, 0, 1], "format": "d", "title": null}},
              "x2": {"field": "b"},
              "y": {"field": "n", "type": "quantitative", "scale": {"domain": [-8.5, 170], "nice": false}, "axis": {"values": [0, 50, 100, 150], "format": "d", "title": null}},
              "y2": {"datum": 0},
              "color": {"field": "g", "type": "nominal", "scale": {"domain": ["L", "D"], "range": ["#FF8C3B", "#DF5210"]}, "legend": null}
            }
          }
        ],
        "bounds": "flush",
        "spacing": 22,
        "resolve": {"scale": {"color": "independent"}}
      }
    ],
    "spacing": 19,
    "resolve": {"scale": {"color": "independent"}}
  },
  {
    "vconcat": [
      {
        "width": 214, "height": 182,
        "title": {"text": "C", "dx": -5},
        "data": {"name": "dec"},
        "encoding": {
          "x": {"field": "d", "type": "quantitative", "scale": {"domain": [0.4, 10.6], "nice": false, "zero": false}, "axis": {"values": [1, 2, 3, 4, 5, 6, 7, 8, 9, 10], "format": "d", "title": ["High ────────────────────────▸ Low", "Introgressed Allele Frequency Decile"], "titleLineHeight": 9.5, "titlePadding": 1}},
          "y": {"field": "p", "type": "quantitative", "scale": {"domain": [-0.68, 13.6], "nice": false}, "axis": {"values": [0, 5, 10], "format": "d", "title": "Percentage"}},
          "color": {"field": "g", "type": "nominal", "scale": {"domain": ["Denisovan", "Neanderthal"], "range": ["#47207F", "#E2561A"]},
            "legend": {"orient": "none", "legendX": 88, "legendY": 146, "title": "Group", "symbolType": "stroke", "symbolStrokeWidth": 1.5, "symbolSize": 80, "labelFontSize": 6.5, "titleFontSize": 7.5, "rowPadding": 0}}
        },
        "layer": [
          {"mark": {"type": "line", "strokeWidth": 1}},
          {"mark": {"type": "circle", "opacity": 1},
           "encoding": {"size": {"field": "n", "type": "quantitative", "scale": {"domain": [4, 12], "range": [9, 107]},
             "legend": {"orient": "none", "legendX": 150, "legendY": 146, "direction": "horizontal", "title": "Diff Active Count", "titleFontSize": 7, "labelFontSize": 6.5, "values": [4, 6, 8, 10, 12], "symbolFillColor": "#000000", "symbolStrokeColor": "#000000", "symbolOpacity": 1, "labelOffset": -6, "labelAlign": "center", "columnPadding": -6, "titlePadding": 10,
               "encode": {"labels": {"update": {"dy": {"value": -9}}}}}}}}
        ]
      },
      {
        "width": 212, "height": 181,
        "title": {"text": "D", "dx": -5},
        "data": {"name": "tss"},
        "encoding": {
          "x": {"field": "b", "type": "ordinal", "sort": ["(−Inf,−500]", "(−500,−50]", "(−50,−5]", "(−5,−1]", "(−1,−0.5]", "(−0.5,0]", "[0,0.5)", "[0.5,1)", "[1,5)", "[5,50)", "[50,500)", "[500, Inf)"], "scale": {"type": "point", "padding": 0.6}, "axis": {"labelAngle": -45, "title": "Distance to TSS (kb)", "titlePadding": 5}},
          "y": {"field": "p", "type": "quantitative", "scale": {"domain": [-1.2, 24.7], "nice": false}, "axis": {"values": [0, 5, 10, 15, 20], "format": "d", "title": "Percentage"}},
          "color": {"field": "g", "type": "nominal", "scale": {"domain": ["Denisovan", "Neanderthal"], "range": ["#47207F", "#E2561A"]}, "legend": null}
        },
        "layer": [
          {"mark": {"type": "line", "strokeWidth": 1}},
          {"mark": {"type": "circle", "opacity": 1},
           "encoding": {"size": {"field": "n", "type": "quantitative", "scale": {"domain": [0, 90], "range": [8, 92]},
             "legend": {"orient": "none", "legendX": 151, "legendY": 1, "direction": "horizontal", "title": "Diff Active Count", "titleFontSize": 7, "labelFontSize": 6.5, "values": [0, 30, 60, 90], "symbolFillColor": "#000000", "symbolStrokeColor": "#000000", "symbolOpacity": 1, "labelOffset": -6, "labelAlign": "center", "columnPadding": -4, "titlePadding": 10,
               "encode": {"labels": {"update": {"dy": {"value": -9}}}}}}}}
        ]
      }
    ],
    "spacing": -4,
    "resolve": {"scale": {"size": "independent", "color": "independent"}}
  },
  {
    "vconcat": [
      {
        "width": 212, "height": 181,
        "title": {"text": "E", "dx": 0},
        "encoding": {
          "y": {"field": "v", "type": "quantitative", "scale": {"domain": [-15.8, 12.2], "nice": false}, "axis": {"values": [-15, -10, -5, 0, 5, 10], "format": "d", "titlePadding": 0, "title": "Differential Binding (modern − archaic)"}}
        },
        "layer": [
          {
            "data": {"name": "vio"},
            "mark": {"type": "area", "orient": "horizontal", "stroke": "#333333", "strokeWidth": 0.6, "opacity": 1},
            "encoding": {
              "x": {"field": "lo", "type": "quantitative", "scale": {"domain": [0.4, 4.6], "nice": false, "zero": false}, "axis": {"values": [1, 2, 3, 4], "title": "Allele with higher activity", "titlePadding": 1, "labelExpr": "datum.value==1?'Denisovan':datum.value==3?'Neanderthal':'Modern'"}},
              "x2": {"field": "hi"},
              "color": {"field": "g", "type": "nominal", "scale": {"domain": ["Den", "Mod1", "Nea", "Mod2"], "range": ["#8452C9", "#6D6D6D", "#FF8C3B", "#6D6D6D"]}, "legend": null}
            }
          },
          {
            "data": {"name": "jit"},
            "mark": {"type": "circle", "color": "#000000", "size": 9, "opacity": 1},
            "encoding": {"x": {"field": "x", "type": "quantitative"}}
          },
          {
            "data": {"name": "brk"},
            "mark": {"type": "rule", "color": "#555555", "strokeWidth": 0.7},
            "encoding": {"x": {"field": "x", "type": "quantitative"}, "x2": {"field": "x2"}, "y2": {"field": "v2"}}
          },
          {
            "data": {"name": "sig"},
            "mark": {"type": "text", "fontSize": 6, "color": "#333333"},
            "encoding": {"x": {"field": "x", "type": "quantitative"}, "text": {"field": "t"}}
          }
        ]
      },
      {
        "width": 212, "height": 181,
        "title": {"text": "F", "dx": 0},
        "encoding": {
          "y": {"field": "y", "type": "quantitative", "scale": {"domain": [-15.6, 10.9], "nice": false}, "axis": {"values": [-15, -10, -5, 0, 5, 10], "format": "d", "titlePadding": 0, "title": "Differential Binding (modern − archaic)"}}
        },
        "layer": [
          {
            "data": {"values": [{"x": 0, "y": -15.6, "y2": 10.9}]},
            "mark": {"type": "rule", "strokeDash": [3, 3], "color": "#BBBBBB", "strokeWidth": 0.8},
            "encoding": {"x": {"field": "x", "type": "quantitative"}, "y2": {"field": "y2"}}
          },
          {
            "data": {"values": [{"y": 0}]},
            "mark": {"type": "rule", "strokeDash": [3, 3], "color": "#BBBBBB", "strokeWidth": 0.8},
            "encoding": {}
          },
          {
            "data": {"name": "fc"},
            "mark": {"type": "circle", "size": 26, "opacity": 1},
            "encoding": {
              "x": {"field": "x", "type": "quantitative", "scale": {"domain": [-1.89, 1.77], "nice": false, "zero": false}, "axis": {"values": [-1, 0, 1], "format": "d", "title": "Expression fold change (modern − archaic)", "titlePadding": 30}},
              "color": {"field": "g", "type": "nominal", "scale": {"domain": ["Denisovan", "Neanderthal"], "range": ["#41196F", "#DF5210"]}, "legend": null}
            }
          }
        ]
      }
    ],
    "spacing": 6,
    "resolve": {"scale": {"color": "independent"}}
  }
],
"spacing": 10,
"resolve": {"scale": {"color": "independent", "size": "independent"}}
}
